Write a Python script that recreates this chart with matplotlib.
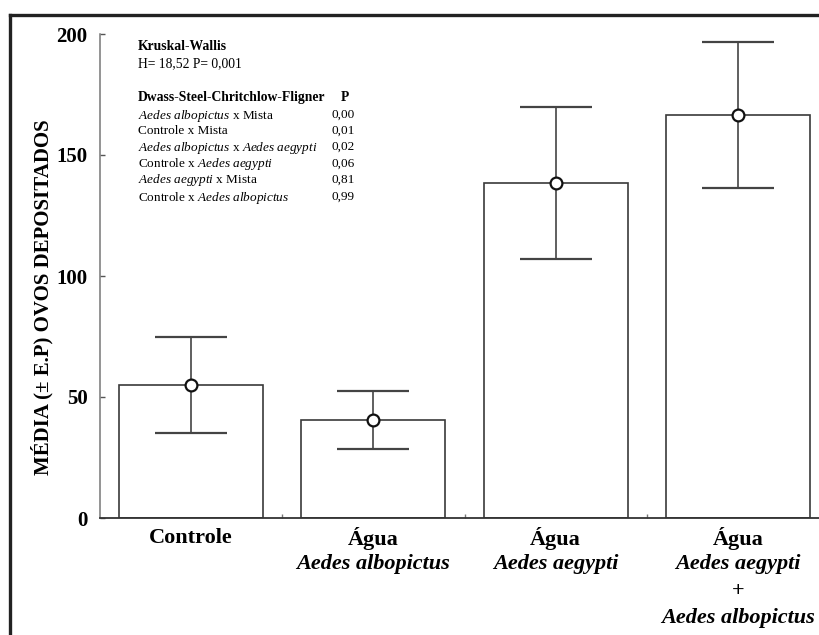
import matplotlib
matplotlib.use("Agg")
import matplotlib.pyplot as plt
from matplotlib.lines import Line2D
import numpy as np

# ---- data ----
categories = ["Controle", "Água Aedes albopictus", "Água Aedes aegypti",
              "Água Aedes aegypti + Aedes albopictus"]
means = [55, 40.5, 138.5, 166.5]
errors = [20, 12, 31.5, 30]

# tick label lines: (text, style)
tick_lines = [
    [("Controle", "normal")],
    [("Água", "normal"), ("Aedes albopictus", "italic")],
    [("Água", "normal"), ("Aedes aegypti", "italic")],
    [("Água", "normal"), ("Aedes aegypti", "italic"), ("+", "normal"),
     ("Aedes albopictus", "italic")],
]
y_ticks = [0, 50, 100, 150, 200]

kw_title = "Kruskal-Wallis"
kw_stat = "H= 18,52 P= 0,001"
posthoc_title = "Dwass-Steel-Chritchlow-Fligner"
comparisons = [
    r"$\mathit{Aedes\ albopictus}$ x Mista",
    "Controle x Mista",
    r"$\mathit{Aedes\ albopictus}$ x $\mathit{Aedes\ aegypti}$",
    r"Controle x $\mathit{Aedes\ aegypti}$",
    r"$\mathit{Aedes\ aegypti}$ x Mista",
    r"Controle x $\mathit{Aedes\ albopictus}$",
]
p_values = ["0,00", "0,01", "0,02", "0,06", "0,81", "0,99"]

# ---- style ----
FONT = "Liberation Serif"
plt.rcParams["font.family"] = FONT
plt.rcParams["mathtext.fontset"] = "custom"
plt.rcParams["mathtext.rm"] = FONT
plt.rcParams["mathtext.it"] = FONT + ":italic"
plt.rcParams["mathtext.bf"] = FONT + ":bold"

W, H = 820, 635
fig = plt.figure(figsize=(W / 100, H / 100), dpi=100)
ax = fig.add_axes([100 / W, 1 - 518 / H, 720 / W, 484 / H])

x = np.arange(len(categories))
ax.bar(x, means, width=0.79, color="white", edgecolor="#3a3a3a",
       linewidth=1.2, zorder=2)
ax.errorbar(x, means, yerr=errors, fmt="o", color="#333333",
            ecolor="#444444", elinewidth=1.2, capsize=26, capthick=1.4,
            mfc="white", mec="#111111", ms=8.5, mew=1.6, zorder=3)

ax.set_xlim(-0.5, 3.45)
ax.set_ylim(0, 200)
ax.set_yticks(y_ticks)
ax.set_yticklabels([str(v) for v in y_ticks], fontsize=15, fontweight="bold")
ax.tick_params(axis="y", direction="in", length=3.5, width=1,
               color="#555555", pad=9)
ax.set_xticks([])
ax.set_xticks([0.5, 1.5, 2.5], minor=True)
ax.tick_params(axis="x", which="minor", direction="in", length=3,
               width=1, color="#777777")

for s in ["top", "right"]:
    ax.spines[s].set_visible(False)
ax.spines["left"].set_color("#777777")
ax.spines["bottom"].set_color("#333333")
ax.spines["left"].set_linewidth(1.1)
ax.spines["bottom"].set_linewidth(1.3)

# x category labels
line_px = [538, 564, 591, 618]
for i, lines in enumerate(tick_lines):
    for j, (txt, st) in enumerate(lines):
        yfrac = (518 - line_px[j]) / 484
        ax.text(x[i], yfrac, txt, transform=ax.get_xaxis_transform(),
                ha="center", va="center", fontsize=16, fontweight="bold",
                fontstyle=st, clip_on=False)

# y label
fig.text(42 / W, 1 - 297 / H, "MÉDIA (± E.P) OVOS DEPOSITADOS",
         rotation=90, ha="center", va="center", fontsize=15,
         fontweight="bold")

# statistics box text
def afy(py):
    return (518 - py) / 484

def afx(px):
    return (px - 100) / 720

ax.text(afx(138), afy(45), kw_title, transform=ax.transAxes,
        fontsize=9.8, fontweight="bold", va="center_baseline", ha="left")
ax.text(afx(138), afy(62), kw_stat, transform=ax.transAxes,
        fontsize=9.8, va="center_baseline", ha="left")
ax.text(afx(138), afy(96), posthoc_title, transform=ax.transAxes,
        fontsize=9.8, fontweight="bold", va="center_baseline", ha="left")
ax.text(afx(345), afy(96), "P", transform=ax.transAxes,
        fontsize=9.8, fontweight="bold", va="center_baseline", ha="center")
row_px = [113, 129, 145, 162, 178, 195]
for r, (c, p) in enumerate(zip(comparisons, p_values)):
    ax.text(afx(138), afy(row_px[r]), c, transform=ax.transAxes,
            fontsize=9.5, va="center_baseline", ha="left")
    ax.text(afx(355), afy(row_px[r]), p, transform=ax.transAxes,
            fontsize=9.5, va="center_baseline", ha="right")

# outer frame (left and top edges)
fig.add_artist(Line2D([10 / W, 10 / W], [0, 1 - 15 / H],
                      transform=fig.transFigure, color="#222222", lw=2.4))
fig.add_artist(Line2D([10 / W, 1], [1 - 15 / H, 1 - 15 / H],
                      transform=fig.transFigure, color="#222222", lw=2.4))

fig.savefig("out.png", dpi=100)
